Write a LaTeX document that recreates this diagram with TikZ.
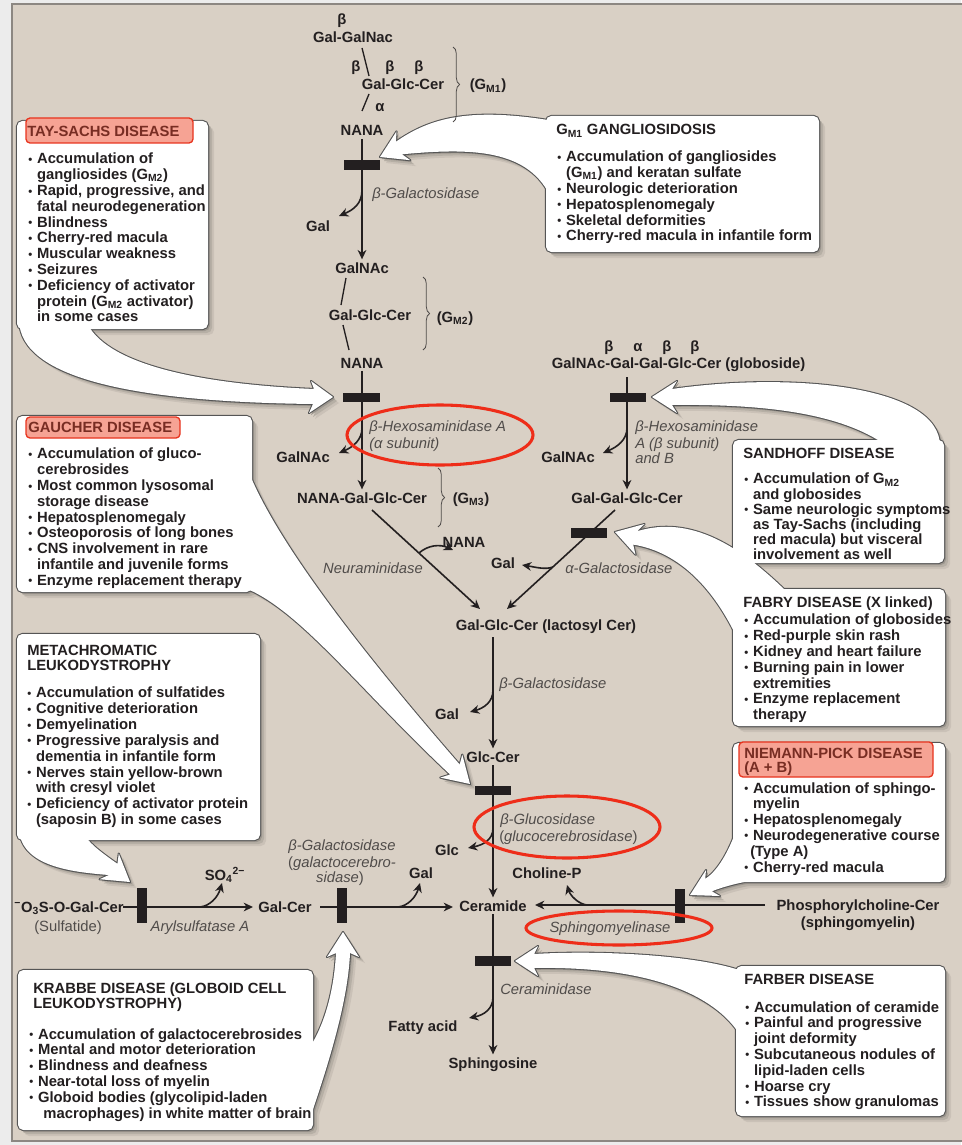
\documentclass[tikz,border=0pt]{standalone}
\usepackage{fontspec}
\setmainfont{Liberation Sans}
\usetikzlibrary{arrows.meta,decorations.pathreplacing}
\definecolor{bg}{RGB}{217,208,197}
\definecolor{outerbg}{RGB}{236,236,236}
\definecolor{framec}{RGB}{140,135,130}
\definecolor{ink}{RGB}{35,31,32}
\definecolor{enzc}{RGB}{80,76,74}
\definecolor{boxline}{RGB}{85,85,85}
\definecolor{hlfill}{RGB}{246,163,148}
\definecolor{hlline}{RGB}{232,52,30}
\definecolor{hltext}{RGB}{120,45,35}
\definecolor{ellred}{RGB}{238,45,25}
\colorlet{shA}{bg!72!black}
\colorlet{shB}{bg!84!black}
\colorlet{shC}{bg!93!black}
\newcommand\bu{\makebox[6.6pt][l]{\raisebox{0.4pt}{\fontsize{8.5}{8.5}\selectfont •}}}
\newcommand\hi{\hspace*{6.6pt}}
\newcommand\Gs[1]{G\textsubscript{#1}}
\newcommand\allshapes[1]{%
 \path[#1,rounded corners=4pt]
   (17,121) rectangle (208,329)
   (546,116) rectangle (819,252)
   (17,416) rectangle (252,592)
   (733,440) rectangle (944,563)
   (733,589) rectangle (945,726)
   (733,743) rectangle (945,882)
   (17,634) rectangle (260,840)
   (18,970) rectangle (313,1130)
   (736,966) rectangle (945,1116);
 \path[#1]
   (560,122) .. controls (470,106) and (430,118) .. (395.9,141.7) -- (396.5,131.4) -- (380,157) -- (410.3,160.2) -- (401.9,154.3) .. controls (470,148) and (530,148) .. (552,200) -- cycle
   (88,325) .. controls (110,365) and (200,384) .. (314,389) -- (311,381) -- (333,397) -- (309,413) -- (313,404) .. controls (140,402) and (20,380) .. (19,320) -- cycle
   (248,470) .. controls (275,540) and (360,650) .. (459.7,764.5) -- (462.3,754.6) -- (470,784) -- (440.3,777.6) -- (450.1,774.5) .. controls (360,690) and (300,610) .. (245,588) -- cycle
   (887,446) .. controls (840,412) and (760,404) .. (672,405) -- (677,413) -- (652,397) -- (677,381) -- (672,389) .. controls (790,372) and (940,385) .. (940,446) -- cycle
   (790,595) .. controls (740,545) and (690,515) .. (637.2,531.2) -- (644.5,524) -- (615,532) -- (635.5,554.7) -- (633.2,544.6) .. controls (680,552) and (715,590) .. (738,640) -- cycle
   (738,825) .. controls (728,855) and (716,872) .. (705.2,878.9) -- (706,870) -- (690,895) -- (720,896) -- (711.8,891.3) .. controls (725,886) and (742,882) .. (765,878) -- cycle
   (85,836) .. controls (92,846) and (105,855) .. (117.4,863.8) -- (118.8,853.6) -- (130,882) -- (99.6,879.2) -- (109,875) .. controls (70,872) and (22,866) .. (19,830) -- cycle
   (308,1050) .. controls (325,1025) and (334,990) .. (336,953) -- (327,957) -- (343,932) -- (359,957) -- (350,953) .. controls (348,1000) and (330,1060) .. (310,1118) -- cycle
   (745,972) .. controls (700,955) and (600,950) .. (534,954) -- (538,946) -- (515,961) -- (538,976) -- (534,968) .. controls (650,966) and (715,995) .. (740,1035) -- cycle;
}
\begin{document}
\begin{tikzpicture}[x=0.75pt,y=-0.75pt,
  chem/.style={font=\fontsize{11.1}{12}\selectfont\bfseries, text=ink, inner sep=2pt, anchor=base},
  plain/.style={font=\fontsize{11.1}{12}\selectfont, text=enzc, inner sep=0pt, anchor=base},
  enz/.style={font=\fontsize{11.1}{12}\selectfont\itshape, text=enzc, inner sep=0pt, anchor=base west},
  enzm/.style={enz, anchor=base},
  btxt/.style={font=\fontsize{11.1}{11.85}\selectfont\bfseries, text=ink, align=left, anchor=north west, inner sep=0pt},
  ttl/.style={font=\fontsize{11.1}{11.85}\selectfont\bfseries, text=ink, anchor=base west, inner sep=0pt},
  hl/.style={fill=hlfill, draw=hlline, line width=1pt, rounded corners=3pt},
  pw/.style={draw=ink, line width=1.2pt},
  arr/.style={pw, -{Stealth[length=7pt,width=6.5pt,inset=2.2pt]}},
  bond/.style={draw=ink, line width=1pt},
  barc/.style={fill=ink},
  brc/.style={draw=enzc, line width=0.6pt, decorate, decoration={brace, amplitude=5pt}},
  ell/.style={draw=ellred, line width=2.3pt}
]
\useasboundingbox (0,0) rectangle (961,1145);
\fill[outerbg] (0,0) rectangle (961,1145);
\fill[bg] (12,4) rectangle (962,1141);
\draw[framec, line width=1.2pt] (962,4) -- (12,4) -- (12,1141) -- (962,1141);

% callout boxes: shadows, outlines, fills
\allshapes{fill=shC,shift={(6,6)}}
\allshapes{fill=shB,shift={(4,4)}}
\allshapes{fill=shA,shift={(2,2)}}
\allshapes{draw=boxline,line width=1.6pt,line join=round}
\allshapes{fill=white}

% ---------- box texts ----------
% Tay-Sachs
\path[hl] (26,118) rectangle (193,143);
\node[ttl, text=hltext] (tsT) at (27,137) {TAY-SACHS DISEASE};
\node[btxt] (tsB) at (28,153) {\bu Accumulation of\\ \hi gangliosides (\Gs{M2})\\ \bu Rapid, progressive, and\\ \hi fatal neurodegeneration\\ \bu Blindness\\ \bu Cherry-red macula\\ \bu Muscular weakness\\ \bu Seizures\\ \bu Deficiency of activator\\ \hi protein (\Gs{M2} activator)\\ \hi in some cases};
% GM1
\node[ttl] (gmT) at (556,135) {\Gs{M1} GANGLIOSIDOSIS};
\node[btxt] (gmB) at (557,151) {\bu Accumulation of gangliosides\\ \hi (\Gs{M1}) and keratan sulfate\\ \bu Neurologic deterioration\\ \bu Hepatosplenomegaly\\ \bu Skeletal deformities\\ \bu Cherry-red macula in infantile form};
% Gaucher
\path[hl] (26,417) rectangle (180,438);
\node[ttl, text=hltext] (gaT) at (28,432) {GAUCHER DISEASE};
\node[btxt] (gaB) at (28,448) {\bu Accumulation of gluco-\\ \hi cerebrosides\\ \bu Most common lysosomal\\ \hi storage disease\\ \bu Hepatosplenomegaly\\ \bu Osteoporosis of long bones\\ \bu CNS involvement in rare\\ \hi infantile and juvenile forms\\ \bu Enzyme replacement therapy};
% Sandhoff
\node[ttl] (saT) at (743,458) {SANDHOFF DISEASE};
\node[btxt, font=\fontsize{11.1}{11.3}\selectfont\bfseries] (saB) at (744,473) {\bu Accumulation of \Gs{M2}\\ \hi and globosides\\ \bu Same neurologic symptoms\\ \hi as Tay-Sachs (including\\ \hi red macula) but visceral\\ \hi involvement as well};
% Fabry
\node[ttl] (faT) at (743,607) {FABRY DISEASE (X linked)};
\node[btxt] (faB) at (744,614) {\bu Accumulation of globosides\\ \bu Red-purple skin rash\\ \bu Kidney and heart failure\\ \bu Burning pain in lower\\ \hi extremities\\ \bu Enzyme replacement\\ \hi therapy};
% Niemann-Pick
\path[hl] (739,742) rectangle (933,777);
\node[btxt, text=hltext, font=\fontsize{11.1}{10.5}\selectfont\bfseries] (npT) at (744,748) {NIEMANN-PICK DISEASE\\(A + B)};
\node[btxt] (npB) at (744,782) {\bu Accumulation of sphingo-\\ \hi myelin\\ \bu Hepatosplenomegaly\\ \bu Neurodegenerative course\\ \hspace*{4.5pt}(Type A)\\ \bu Cherry-red macula};
% Metachromatic
\node[btxt, font=\fontsize{11.1}{11.25}\selectfont\bfseries] (mlT) at (27,645) {METACHROMATIC\\LEUKODYSTROPHY};
\node[btxt] (mlB) at (27,687) {\bu Accumulation of sulfatides\\ \bu Cognitive deterioration\\ \bu Demyelination\\ \bu Progressive paralysis and\\ \hi dementia in infantile form\\ \bu Nerves stain yellow-brown\\ \hi with cresyl violet\\ \bu Deficiency of activator protein\\ \hi (saposin B) in some cases};
% Krabbe
\node[btxt, font=\fontsize{11.1}{11.25}\selectfont\bfseries] (krT) at (33,982) {KRABBE DISEASE (GLOBOID CELL\\LEUKODYSTROPHY)};
\node[btxt] (krB) at (29,1028) {\bu Accumulation of galactocerebrosides\\ \bu Mental and motor deterioration\\ \bu Blindness and deafness\\ \bu Near-total loss of myelin\\ \bu Globoid bodies (glycolipid-laden\\ \hi\hspace*{4pt}macrophages) in white matter of brain};
% Farber
\node[ttl] (frT) at (744,984) {FARBER DISEASE};
\node[btxt] (frB) at (745,1001) {\bu Accumulation of ceramide\\ \bu Painful and progressive\\ \hi joint deformity\\ \bu Subcutaneous nodules of\\ \hi lipid-laden cells\\ \bu Hoarse cry\\ \bu Tissues show granulomas};

% ---------- pathway: top (GM1) ----------
\node[chem] (bt0) at (342,25) {β};
\node[chem] (galgalnac) at (353,43) {Gal-GalNac};
\node[chem] (bt1) at (356,72) {β};
\node[chem] (bt2) at (390,72) {β};
\node[chem] (bt3) at (419,72) {β};
\node[chem] (ggc1) at (403,90) {Gal-Glc-Cer};
\node[chem] (al1) at (380,112) {α};
\node[chem] (nana1) at (362,136) {NANA};
\path (362,48) coordinate (k1a) (369,76) coordinate (k1b) (369,94) coordinate (k2a) (362,111) coordinate (k2b);
\draw[bond] (k1a) -- (k1b);
\draw[bond] (k2a) -- (k2b);
\draw[brc] (453,47) -- (453,122);
\node[chem] (gm1) at (488,90) {(\Gs{M1})};

\node[chem] (galnac1) at (362,273) {GalNAc};
\draw[arr] (nana1) -- (galnac1);
\fill[barc] (344,160) rectangle (380,170);
\node[enz] (e1) at (372,198) {β-Galactosidase};
\node[chem] (gal1) at (318,231) {Gal};
\path (362,190) coordinate (g1s) (339,216) coordinate (g1e);
\draw[arr] (g1s) .. controls (362,204) and (353,210) .. (g1e);

% GM2
\node[chem] (ggc2) at (370,320) {Gal-Glc-Cer};
\node[chem] (nana2) at (362,368) {NANA};
\path (346,278) coordinate (k3a) (341,305) coordinate (k3b) (343,325) coordinate (k4a) (349,350) coordinate (k4b);
\draw[bond] (k3a) -- (k3b);
\draw[bond] (k4a) -- (k4b);
\draw[brc] (423,277) -- (423,350);
\node[chem] (gm2) at (455,322) {(\Gs{M2})};

\node[chem] (nggc) at (362,503) {NANA-Gal-Glc-Cer};
\draw[arr] (nana2) -- (nggc);
\fill[barc] (343,393) rectangle (380,402);
\node[enz] (e2) at (369,431) {β-Hexosaminidase A};
\node[enz] (e2b) at (369,448) {(α subunit)};
\node[chem] (galnac2) at (303,462) {GalNAc};
\path (362,428) coordinate (g2s) (339,453) coordinate (g2e);
\draw[arr] (g2s) .. controls (362,440) and (353,447) .. (g2e);
\draw[brc] (438,468) -- (438,527);
\node[chem] (gm3) at (471,503) {(\Gs{M3})};

% globoside branch
\node[chem] (bt4) at (609,351) {β};
\node[chem] (al2) at (638,351) {α};
\node[chem] (bt5) at (667,351) {β};
\node[chem] (bt6) at (695,351) {β};
\node[chem, anchor=base west] (glob) at (549,368) {GalNAc-Gal-Gal-Glc-Cer (globoside)};
\node[chem] (ggg) at (627,503) {Gal-Gal-Glc-Cer};
\path (627,377) coordinate (gls);
\draw[arr] (gls) -- (ggg);
\fill[barc] (610,393) rectangle (646,402);
\node[enz] (e3) at (635,431) {β-Hexosaminidase};
\node[enz] (e3b) at (635,448) {A (β subunit)};
\node[enz] (e3c) at (635,463) {and B};
\node[chem] (galnac3) at (568,462) {GalNAc};
\path (627,428) coordinate (g3s) (603,453) coordinate (g3e);
\draw[arr] (g3s) .. controls (627,440) and (617,447) .. (g3e);

% converging to lactosyl ceramide
\node[chem] (lac) at (546,630) {Gal-Glc-Cer (lactosyl Cer)};
\path (372,510) coordinate (d1s) (480,609) coordinate (d1e) (615,510) coordinate (d2s) (507,609) coordinate (d2e);
\draw[arr] (d1s) -- (d1e);
\draw[arr] (d2s) -- (d2e);
\node[chem] (nana3) at (464,547) {NANA};
\path (419,553) coordinate (g4s) (453,550) coordinate (g4e);
\draw[arr] (g4s) .. controls (428,545) and (440,544) .. (g4e);
\node[enzm] (e4) at (373,573) {Neuraminidase};
\fill[barc] (571,528) rectangle (607,538);
\node[chem] (gal2) at (503,568) {Gal};
\path (553,567) coordinate (g5s) (522,565) coordinate (g5e);
\draw[arr] (g5s) .. controls (545,570) and (535,567) .. (g5e);
\node[enz] (e5) at (565,573) {α-Galactosidase};

% lactosyl -> glucosyl ceramide
\node[chem] (glccer) at (493,762) {Glc-Cer};
\path (493,637) coordinate (v3s);
\draw[arr] (v3s) -- (glccer);
\node[enz] (e6) at (499,688) {β-Galactosidase};
\node[chem] (gal3) at (447,719) {Gal};
\path (493,690) coordinate (g6s) (470,712) coordinate (g6e);
\draw[arr] (g6s) .. controls (493,702) and (484,708) .. (g6e);

% glucosyl ceramide -> ceramide
\node[chem] (cer) at (493,911) {Ceramide};
\draw[arr] (glccer) -- (cer);
\fill[barc] (475,786) rectangle (511,795);
\node[enz] (e7) at (500,824) {β-Glucosidase};
\node[enz] (e7b) at (499,841) {\textup{(}glucocerebrosidase\textup{)}};
\node[chem] (glc) at (447,855) {Glc};
\path (493,828) coordinate (g7s) (468,848) coordinate (g7e);
\draw[arr] (g7s) .. controls (493,840) and (483,845) .. (g7e);

% sphingomyelin -> ceramide
\node[chem] (phos) at (858,910) {Phosphorylcholine-Cer};
\node[chem] (phos2) at (858,927) {(sphingomyelin)};
\path (765,905) coordinate (h1s) (535,905) coordinate (h1e);
\draw[arr] (h1s) -- (h1e);
\fill[barc] (675,889) rectangle (685,923);
\node[chem] (chol) at (547,878) {Choline-P};
\path (587,905) coordinate (g8s) (567,885) coordinate (g8e);
\draw[arr] (g8s) .. controls (578,904) and (570,895) .. (g8e);
\node[enzm] (e8) at (610,932) {Sphingomyelinase};

% sulfatide -> galactosyl ceramide -> ceramide
\node[chem] (sulf) at (69,912) {\textsuperscript{−}O\textsubscript{3}S-O-Gal-Cer};
\node[plain] (sulf2) at (68,931) {(Sulfatide)};
\node[chem] (galcer) at (285,912) {Gal-Cer};
\path (123,907) coordinate (h2s) (253,907) coordinate (h2e) (320,907) coordinate (h3s) (453,907) coordinate (h3e);
\draw[arr] (h2s) -- (h2e);
\draw[arr] (h3s) -- (h3e);
\fill[barc] (137,888) rectangle (147,923);
\fill[barc] (337,888) rectangle (347,923);
\node[chem] (so4) at (225,880) {SO\textsubscript{4}\textsuperscript{2−}};
\path (200,907) coordinate (g9s) (222,883) coordinate (g9e);
\draw[arr] (g9s) .. controls (210,906) and (218,897) .. (g9e);
\node[enzm] (e9) at (200,931) {Arylsulfatase A};
\node[chem] (gal4) at (421,878) {Gal};
\path (398,907) coordinate (g10s) (420,883) coordinate (g10e);
\draw[arr] (g10s) .. controls (408,906) and (416,897) .. (g10e);
\node[enzm] (e10) at (342,850) {β-Galactosidase};
\node[enzm] (e10b) at (342,867) {\textup{(}galactocerebro-};
\node[enzm] (e10c) at (340,882) {sidase\textup{)}};

% ceramide -> sphingosine
\node[chem] (sph) at (493,1068) {Sphingosine};
\draw[arr] (cer) -- (sph);
\fill[barc] (475,956) rectangle (511,966);
\node[enz] (e11) at (500,994) {Ceraminidase};
\node[chem] (fa) at (423,1031) {Fatty acid};
\path (493,997) coordinate (g11s) (469,1018) coordinate (g11e);
\draw[arr] (g11s) .. controls (493,1009) and (484,1015) .. (g11e);

% red highlight ellipses
\draw[ell] (440,435) ellipse [x radius=93, y radius=30];
\draw[ell] (567,827) ellipse [x radius=93, y radius=31];
\draw[ell] (619,928) ellipse [x radius=93, y radius=17];
\end{tikzpicture}
\end{document}
